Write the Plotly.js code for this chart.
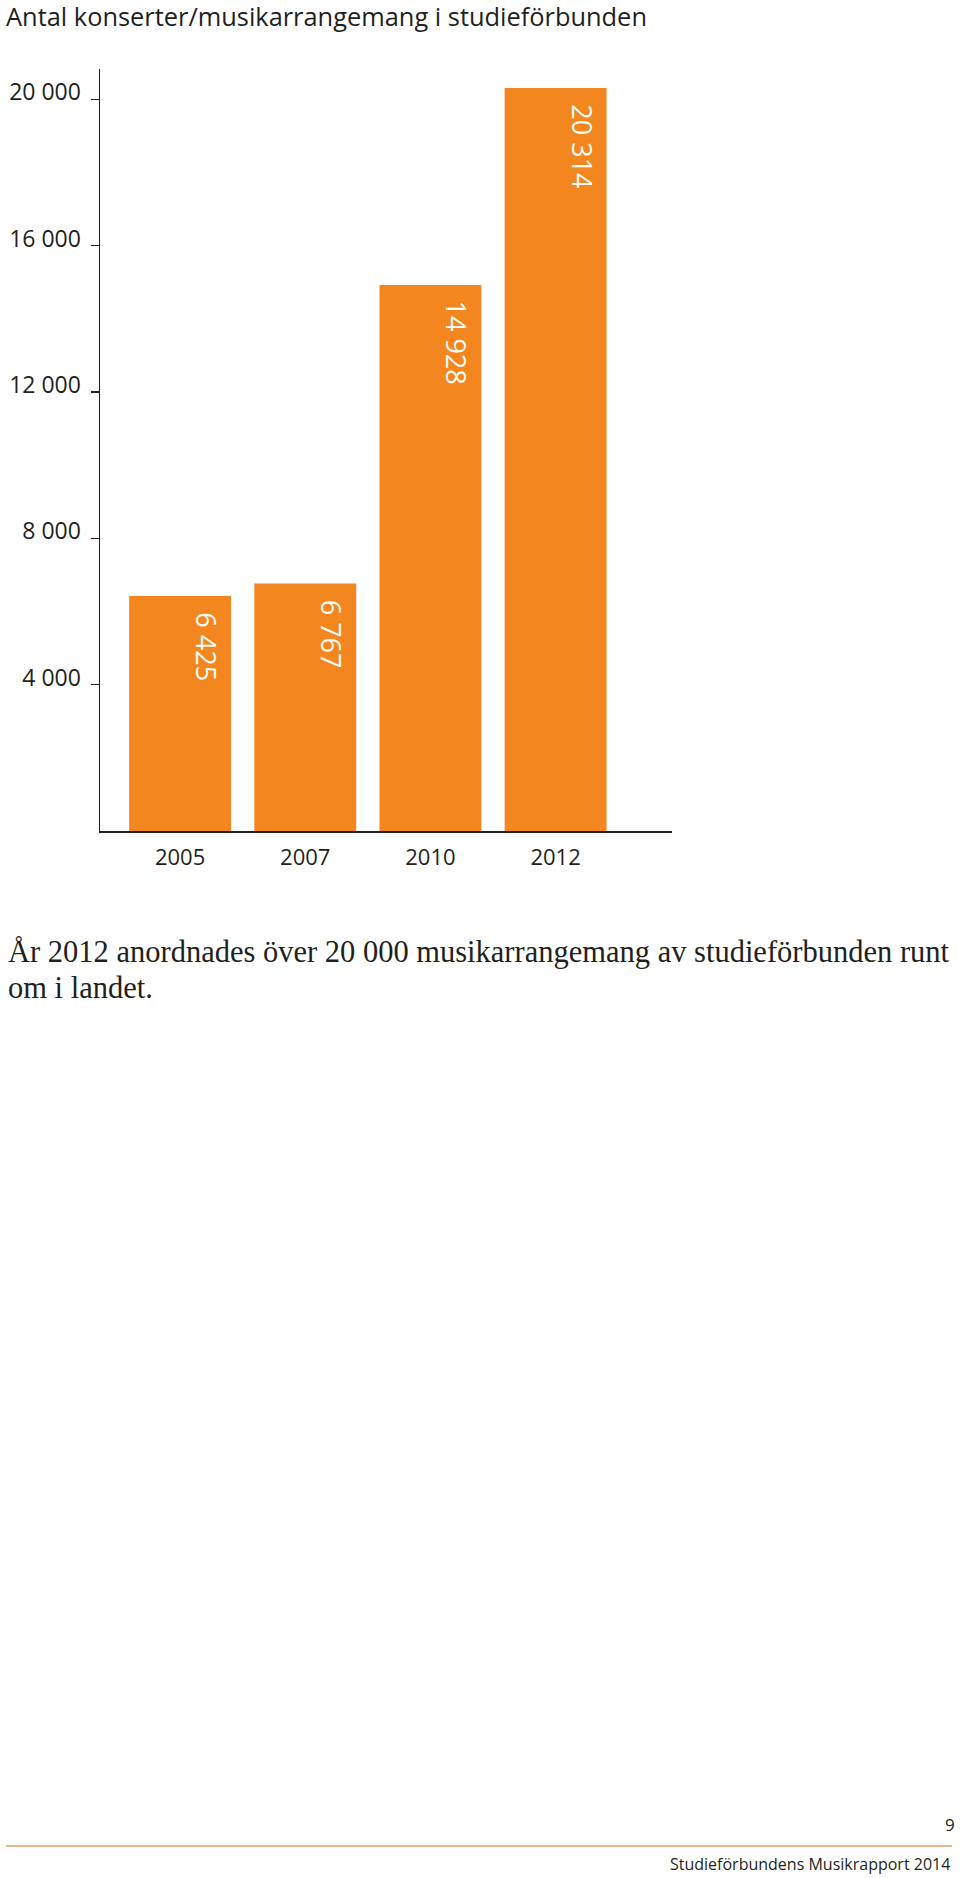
<!DOCTYPE html>
<html>
<head>
<meta charset="utf-8">
<script src="https://cdn.plot.ly/plotly-3.0.1.min.js"></script>
<style>
  html, body { margin: 0; padding: 0; background: #fff; }
</style>
</head>
<body>
<div id="chart" style="width:960px;height:1878px;"></div>
<script>
var years = ['2005', '2007', '2010', '2012'];
var counts = [6425, 6767, 14928, 20314];
var tickValues = [4000, 8000, 12000, 16000, 20000];
var tickLabels = ['4 000', '8 000', '12 000', '16 000', '20 000'];
var chartTitle = 'Antal konserter/musikarrangemang i studieförbunden';
var captionLines = [
  'År 2012 anordnades över 20 000 musikarrangemang av studieförbunden runt',
  'om i landet.'
];
var pageNumber = '9';
var footerText = 'Studieförbundens Musikrapport 2014';

var ink = '#231f20', orange = '#f3861f';

// plot area in page pixels: x 100..672, y 69..831
var plotL = 100, plotR = 672, plotT = 69, plotB = 831;
var px = function(x) { return (x - plotL) / (plotR - plotL); };
var py = function(y) { return (plotB - y) / (plotB - plotT); };

var spaced = function(v) {
  return String(v).replace(/\B(?=(\d{3})+(?!\d))/g, ' ');
};

var bars = {
  x: years,
  y: counts,
  type: 'bar',
  width: 0.814,
  marker: { color: orange, line: { width: 0 } },
  hoverinfo: 'none'
};

// value labels, rotated, near the top right of each bar
// (x given as category index, a string like '2005' would be read as a number)
var annotations = counts.map(function(v, i) {
  return {
    x: i, y: v, xref: 'x', yref: 'y',
    text: spaced(v),
    textangle: 90,
    xanchor: 'center', yanchor: 'top',
    xshift: 26, yshift: -14,
    showarrow: false,
    font: { family: 'Open Sans', size: 27, color: '#fffdf5' }
  };
});

captionLines.forEach(function(line, i) {
  annotations.push({
    xref: 'paper', yref: 'paper',
    x: px(6), y: py(952 + i * 36),
    xanchor: 'left', yanchor: 'middle',
    text: line, showarrow: false,
    font: { family: 'Liberation Serif', size: 30.5, color: ink }
  });
});

annotations.push({
  xref: 'paper', yref: 'paper',
  x: px(950), y: py(1824), xanchor: 'center', yanchor: 'middle',
  text: pageNumber, showarrow: false,
  font: { family: 'Open Sans', size: 17, color: ink }
});
annotations.push({
  xref: 'paper', yref: 'paper',
  x: px(952), y: py(1877), xanchor: 'right', yanchor: 'bottom',
  text: footerText, showarrow: false,
  font: { family: 'Open Sans', size: 16, color: ink }
});

var layout = {
  width: 960,
  height: 1878,
  margin: { l: plotL, r: 960 - plotR, t: plotT, b: 1878 - plotB, pad: 0 },
  paper_bgcolor: '#fff',
  plot_bgcolor: '#fff',
  showlegend: false,
  title: {
    text: chartTitle,
    xref: 'container', yref: 'container',
    x: 6 / 960, xanchor: 'left',
    y: 1 - 17 / 1878, yanchor: 'middle',
    font: { family: 'Open Sans', size: 25.4, color: ink }
  },
  xaxis: {
    type: 'category',
    range: [-0.64, 3.93],
    showline: true, linecolor: ink, linewidth: 1.5,
    showgrid: false, zeroline: false,
    ticks: '',
    ticklabelstandoff: 6,
    tickfont: { family: 'Open Sans', size: 22, color: ink }
  },
  yaxis: {
    range: [0, 20831],
    tickvals: tickValues,
    ticktext: tickLabels,
    ticks: 'outside', ticklen: 8, tickwidth: 1.2, tickcolor: ink,
    showline: true, linecolor: ink, linewidth: 1.5,
    showgrid: false, zeroline: false,
    ticklabelstandoff: 5,
    ticklabelshift: -7,
    tickfont: { family: 'Open Sans', size: 23, color: ink }
  },
  shapes: [{
    type: 'line', xref: 'paper', yref: 'paper',
    x0: px(6), x1: px(952), y0: py(1846), y1: py(1846),
    line: { color: '#dfa45f', width: 1.5 }
  }],
  annotations: annotations
};

Plotly.newPlot('chart', [bars], layout, { staticPlot: true });
</script>
</body>
</html>
